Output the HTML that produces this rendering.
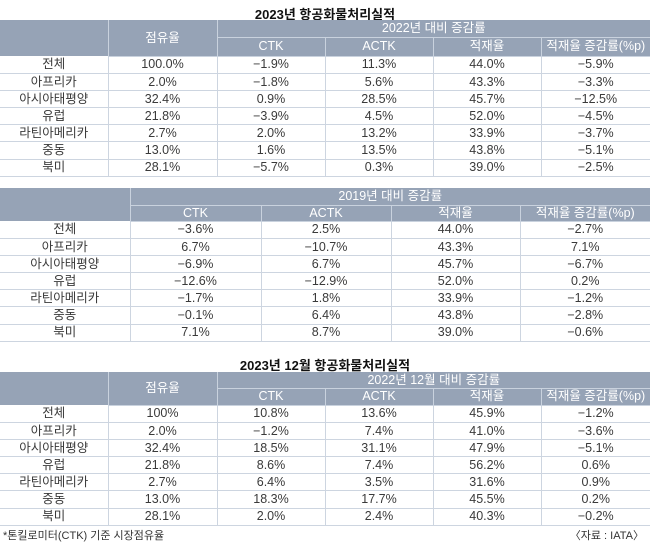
<!DOCTYPE html>
<html><head><meta charset="utf-8"><style>
body{margin:0;width:650px;height:547px;background:#fff;position:relative;overflow:hidden;font-family:"Liberation Sans","Noto Sans CJK KR",sans-serif;color:#3a3a3a}
.t{position:absolute;left:0;width:650px;text-align:center;font-weight:bold;font-size:13px;color:#111}
table{position:absolute;left:0;width:650px;border-collapse:collapse;table-layout:fixed;font-size:12.5px}
td{text-align:center;padding:0;line-height:1;white-space:nowrap;overflow:hidden}
td.h{background:#96a3b6;color:#fff;border-left:1px solid #c9d2de;border-bottom:1px solid #c9d2de}
td.h0{background:#96a3b6}
tr.r td{border-bottom:1px solid #cdd5e0;border-left:1px solid #cdd5e0}
tr.r td:first-child{border-left:none}
.n{position:absolute;font-size:11px;color:#333}
</style></head><body>
<div class="t" style="top:4px">2023년 항공화물처리실적</div>
<table style="top:20px">
<colgroup><col style="width:108px"><col style="width:109px"><col style="width:108px"><col style="width:108px"><col style="width:108px"><col style="width:109px"></colgroup>
<tr style="height:17px"><td class="h0" rowspan="2"></td><td class="h" rowspan="2">점유율</td><td class="h" colspan="4">2022년 대비 증감률</td></tr>
<tr style="height:19px"><td class="h">CTK</td><td class="h">ACTK</td><td class="h">적재율</td><td class="h">적재율 증감률(%p)</td></tr>
<tr class="r" style="height:17.2px"><td>전체</td><td>100.0%</td><td>−1.9%</td><td>11.3%</td><td>44.0%</td><td>−5.9%</td></tr>
<tr class="r" style="height:17.2px"><td>아프리카</td><td>2.0%</td><td>−1.8%</td><td>5.6%</td><td>43.3%</td><td>−3.3%</td></tr>
<tr class="r" style="height:17.2px"><td>아시아태평양</td><td>32.4%</td><td>0.9%</td><td>28.5%</td><td>45.7%</td><td>−12.5%</td></tr>
<tr class="r" style="height:17.2px"><td>유럽</td><td>21.8%</td><td>−3.9%</td><td>4.5%</td><td>52.0%</td><td>−4.5%</td></tr>
<tr class="r" style="height:17.2px"><td>라틴아메리카</td><td>2.7%</td><td>2.0%</td><td>13.2%</td><td>33.9%</td><td>−3.7%</td></tr>
<tr class="r" style="height:17.2px"><td>중동</td><td>13.0%</td><td>1.6%</td><td>13.5%</td><td>43.8%</td><td>−5.1%</td></tr>
<tr class="r" style="height:17.2px"><td>북미</td><td>28.1%</td><td>−5.7%</td><td>0.3%</td><td>39.0%</td><td>−2.5%</td></tr>
</table>
<table style="top:188px">
<colgroup><col style="width:130px"><col style="width:131px"><col style="width:130px"><col style="width:129px"><col style="width:130px"></colgroup>
<tr style="height:17px"><td class="h0" rowspan="2"></td><td class="h" colspan="4">2019년 대비 증감률</td></tr>
<tr style="height:16px"><td class="h">CTK</td><td class="h">ACTK</td><td class="h">적재율</td><td class="h">적재율 증감률(%p)</td></tr>
<tr class="r" style="height:17.2px"><td>전체</td><td>−3.6%</td><td>2.5%</td><td>44.0%</td><td>−2.7%</td></tr>
<tr class="r" style="height:17.2px"><td>아프리카</td><td>6.7%</td><td>−10.7%</td><td>43.3%</td><td>7.1%</td></tr>
<tr class="r" style="height:17.2px"><td>아시아태평양</td><td>−6.9%</td><td>6.7%</td><td>45.7%</td><td>−6.7%</td></tr>
<tr class="r" style="height:17.2px"><td>유럽</td><td>−12.6%</td><td>−12.9%</td><td>52.0%</td><td>0.2%</td></tr>
<tr class="r" style="height:17.2px"><td>라틴아메리카</td><td>−1.7%</td><td>1.8%</td><td>33.9%</td><td>−1.2%</td></tr>
<tr class="r" style="height:17.2px"><td>중동</td><td>−0.1%</td><td>6.4%</td><td>43.8%</td><td>−2.8%</td></tr>
<tr class="r" style="height:17.2px"><td>북미</td><td>7.1%</td><td>8.7%</td><td>39.0%</td><td>−0.6%</td></tr>
</table>
<div class="t" style="top:355px">2023년 12월 항공화물처리실적</div>
<table style="top:372px">
<colgroup><col style="width:108px"><col style="width:109px"><col style="width:108px"><col style="width:108px"><col style="width:108px"><col style="width:109px"></colgroup>
<tr style="height:16px"><td class="h0" rowspan="2"></td><td class="h" rowspan="2">점유율</td><td class="h" colspan="4">2022년 12월 대비 증감률</td></tr>
<tr style="height:17px"><td class="h">CTK</td><td class="h">ACTK</td><td class="h">적재율</td><td class="h">적재율 증감률(%p)</td></tr>
<tr class="r" style="height:17.2px"><td>전체</td><td>100%</td><td>10.8%</td><td>13.6%</td><td>45.9%</td><td>−1.2%</td></tr>
<tr class="r" style="height:17.2px"><td>아프리카</td><td>2.0%</td><td>−1.2%</td><td>7.4%</td><td>41.0%</td><td>−3.6%</td></tr>
<tr class="r" style="height:17.2px"><td>아시아태평양</td><td>32.4%</td><td>18.5%</td><td>31.1%</td><td>47.9%</td><td>−5.1%</td></tr>
<tr class="r" style="height:17.2px"><td>유럽</td><td>21.8%</td><td>8.6%</td><td>7.4%</td><td>56.2%</td><td>0.6%</td></tr>
<tr class="r" style="height:17.2px"><td>라틴아메리카</td><td>2.7%</td><td>6.4%</td><td>3.5%</td><td>31.6%</td><td>0.9%</td></tr>
<tr class="r" style="height:17.2px"><td>중동</td><td>13.0%</td><td>18.3%</td><td>17.7%</td><td>45.5%</td><td>0.2%</td></tr>
<tr class="r" style="height:17.2px"><td>북미</td><td>28.1%</td><td>2.0%</td><td>2.4%</td><td>40.3%</td><td>−0.2%</td></tr>
</table>
<div class="n" style="left:3px;top:527px">*톤킬로미터(CTK) 기준 시장점유율</div>
<div class="n" style="right:6px;top:527px">〈자료 : IATA〉</div>
</body></html>
